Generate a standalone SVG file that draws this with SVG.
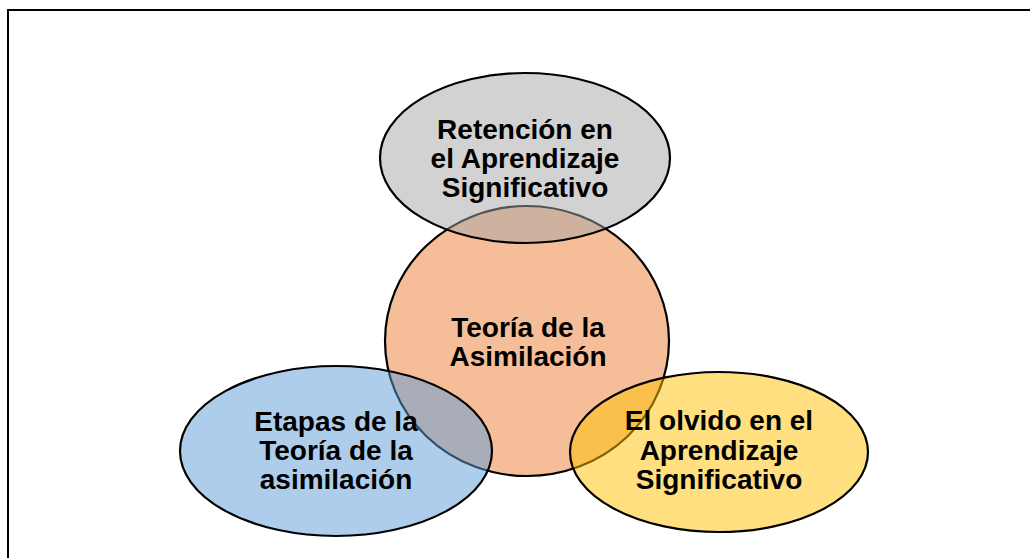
<svg xmlns="http://www.w3.org/2000/svg" width="1030" height="558" viewBox="0 0 1030 558">
  <style>
    .shape { stroke: #000; stroke-width: 2.2; fill-opacity: 0.5; }
    .lbl { font-family: "Liberation Sans", Arial, sans-serif; font-weight: bold; font-size: 28px; fill: #000; text-anchor: middle; }
  </style>
  <rect x="0" y="0" width="1030" height="558" fill="#fff"/>
  <rect x="8" y="10" width="1100" height="700" fill="none" stroke="#000" stroke-width="2"/>
  <g id="connectors"/>
  <g id="node-center">
    <ellipse class="shape" cx="527" cy="341" rx="142" ry="135" fill="#ED7D31"/>
    <text class="lbl" x="528" y="337">Teoría de la</text>
    <text class="lbl" x="528" y="366">Asimilación</text>
  </g>
  <g id="node-top">
    <ellipse class="shape" cx="525" cy="158" rx="145" ry="85" fill="#A5A5A5"/>
    <text class="lbl" x="525" y="139">Retención en</text>
    <text class="lbl" x="525" y="168">el Aprendizaje</text>
    <text class="lbl" x="525" y="197">Significativo</text>
  </g>
  <g id="node-left">
    <ellipse class="shape" cx="336" cy="451" rx="156" ry="85" fill="#5B9BD5"/>
    <text class="lbl" x="336" y="431">Etapas de la</text>
    <text class="lbl" x="336" y="460">Teoría de la</text>
    <text class="lbl" x="336" y="489">asimilación</text>
  </g>
  <g id="node-right">
    <ellipse class="shape" cx="719" cy="452" rx="149" ry="80" fill="#FFC000"/>
    <text class="lbl" x="719" y="430">El olvido en el</text>
    <text class="lbl" x="719" y="460">Aprendizaje</text>
    <text class="lbl" x="719" y="489">Significativo</text>
  </g>
</svg>
